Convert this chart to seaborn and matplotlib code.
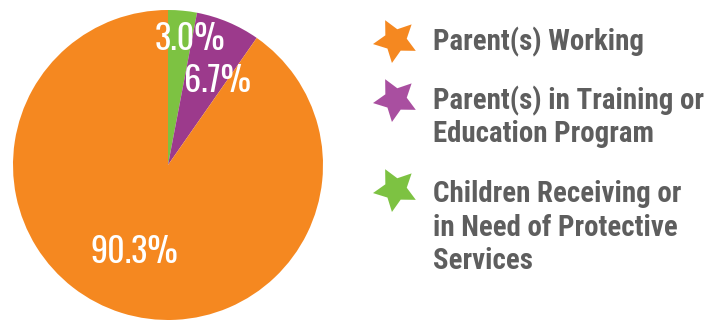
import numpy as np
import matplotlib
matplotlib.use("Agg")
import matplotlib.pyplot as plt
import seaborn as sns
from matplotlib.path import Path

# ---- data ----
categories = ["Children Receiving or\nin Need of Protective\nServices",
              "Parent(s) in Training or\nEducation Program",
              "Parent(s) Working"]
values = [3.0, 6.7, 90.3]
pct_labels = ["3.0%", "6.7%", "90.3%"]
colors = ["#7DC242", "#9C3A8C", "#F58820"]
star_colors = ["#7DC242", "#A94FA0", "#F58820"]
legend_order = [2, 1, 0]

sns.set_theme(style="white")
plt.rcParams["font.family"] = ["Roboto Condensed", "Barlow Condensed",
                               "Archivo Narrow", "DejaVu Sans"]
PCT_FONT = ["Oswald", "Roboto Condensed", "Barlow Condensed", "DejaVu Sans"]

W, H = 719, 320
fig = plt.figure(figsize=(W / 100, H / 100), dpi=100)
fig.patch.set_facecolor("white")

# pie: centre (168,165) px, radius 155 px
cx, cy, R = 168, 165, 155
ax = fig.add_axes([(cx - R) / W, (H - cy - R) / H, 2 * R / W, 2 * R / H])
wedges, _ = ax.pie(values, colors=colors, startangle=90, counterclock=False,
                   radius=1, wedgeprops=dict(linewidth=0))
ax.set_xlim(-1, 1)
ax.set_ylim(-1, 1)
ax.set_aspect("equal")
ax.axis("off")

# percentage labels (pixel positions of text centre-x / baseline)
pct_pos = [(189.5, 50), (217.5, 92), (134, 263)]
for lab, (px, py) in zip(pct_labels, pct_pos):
    ax.text((px - cx) / R, (cy - py) / R, lab, ha="center", va="baseline",
            color="white", fontsize=24.5, fontweight="medium", family=PCT_FONT)

# overlay axes in pixel coordinates for the legend
lax = fig.add_axes([0, 0, 1, 1])
lax.set_xlim(0, W)
lax.set_ylim(H, 0)
lax.axis("off")
lax.patch.set_alpha(0)


def star_path(rot_deg=27, inner=0.5):
    k = np.arange(10)
    angs = np.deg2rad(90 + rot_deg + k * 36)
    r = np.where(k % 2 == 0, 1.0, inner)
    verts = np.column_stack([r * np.cos(angs), r * np.sin(angs)])
    verts = np.vstack([verts, verts[0]])
    codes = [Path.MOVETO] + [Path.LINETO] * 9 + [Path.CLOSEPOLY]
    return Path(verts, codes)


star = star_path()
star_y = [40, 99, 189]
first_baseline = [50, 109, 202]
line_step = 33.5
for row, idx in enumerate(legend_order):
    lax.scatter([395], [star_y[row]], marker=star, s=1050,
                color=star_colors[idx], linewidths=0)
    for j, line in enumerate(categories[idx].split("\n")):
        lax.text(433, first_baseline[row] + j * line_step, line,
                 ha="left", va="baseline", color="#5E5E5E",
                 fontsize=20.8, fontweight="bold")

fig.savefig("out.png", dpi=100, facecolor="white")
